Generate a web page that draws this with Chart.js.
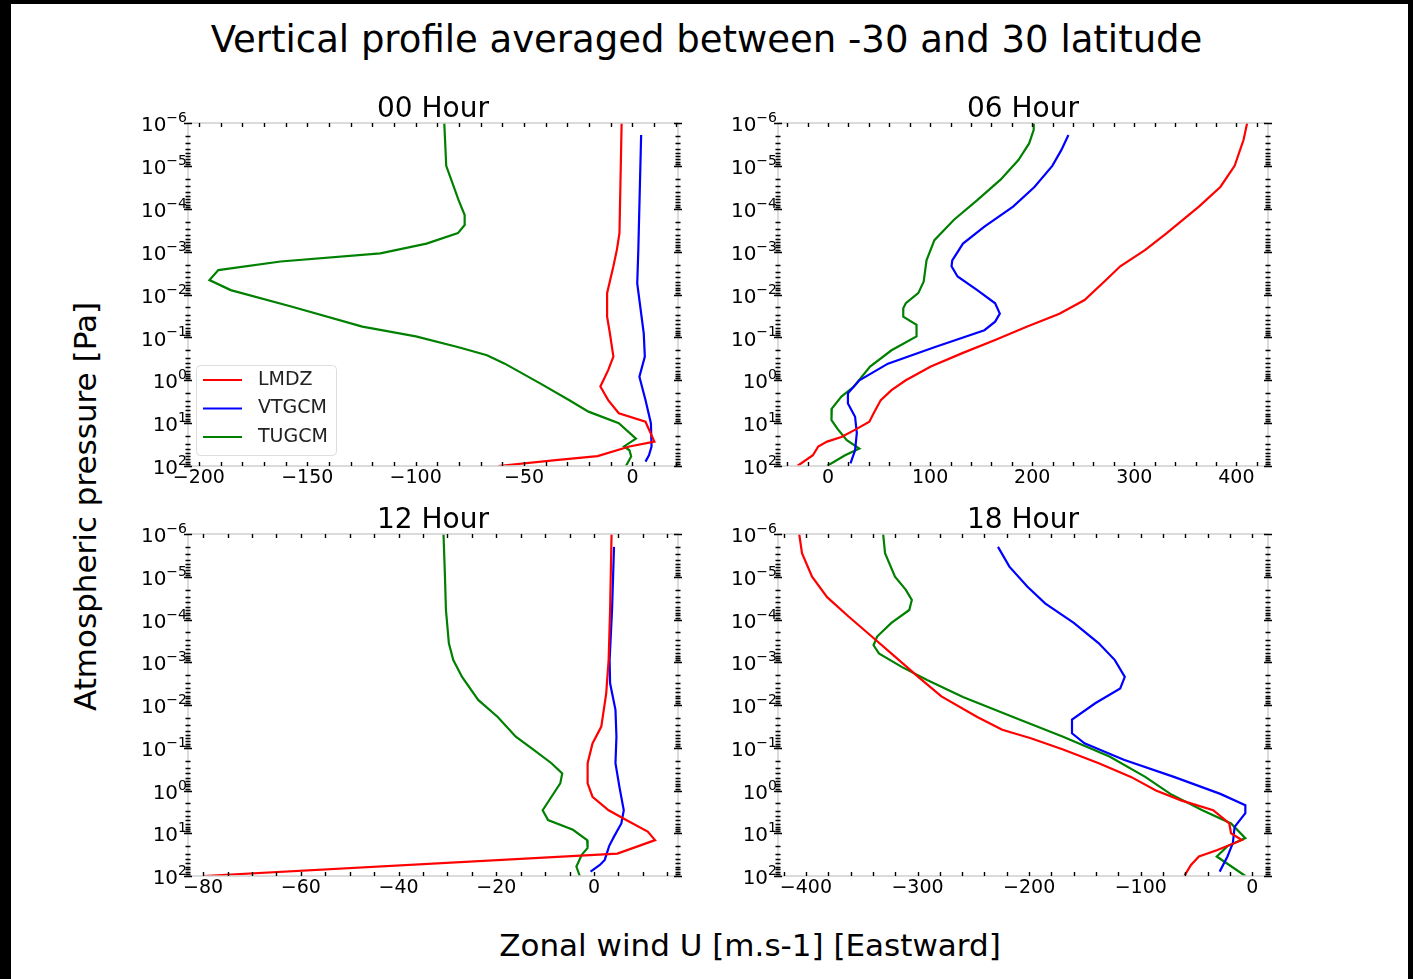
<!DOCTYPE html>
<html>
<head>
<meta charset="utf-8">
<script src="https://cdn.jsdelivr.net/npm/chart.js@4.4.0/dist/chart.umd.min.js"></script>
<style>
  body { margin: 0; background: #000; width: 1413px; height: 979px; overflow: hidden; font-family: 'DejaVu Sans', sans-serif; }
  #sheet { position: absolute; left: 11px; top: 4px; width: 1397px; height: 975px; background: #fff; }
  canvas { position: absolute; }
  .txt { position: absolute; color: #000; white-space: nowrap; text-align: center; }
</style>
</head>
<body>
<div id="sheet"></div>
<div class="txt" style="left:0;width:1413px;top:18px;line-height:44px;font-size:37px;">Vertical profile averaged between -30 and 30 latitude</div>
<div class="txt" style="left:450px;width:600px;top:925px;line-height:40px;font-size:31px;">Zonal wind U [m.s-1] [Eastward]</div>
<div class="txt" style="left:-115px;width:400px;top:491px;line-height:40px;font-size:31px;transform:rotate(-90deg);">Atmospheric pressure [Pa]</div>

<canvas id="h00" width="590" height="410" style="left:110px;top:90px"></canvas>
<canvas id="h06" width="590" height="410" style="left:700px;top:90px"></canvas>
<canvas id="h12" width="590" height="409" style="left:110px;top:501px"></canvas>
<canvas id="h18" width="590" height="409" style="left:700px;top:501px"></canvas>

<script>
// niveaux de pression [Pa] et vent zonal [m/s]
const models = ['LMDZ', 'VTGCM', 'TUGCM'];
const colors = ['#ff0000', '#0000ff', '#008000'];
const decades = [1e-6, 1e-5, 1e-4, 1e-3, 1e-2, 1e-1, 1, 10, 100];

// 00 Hour
const lmdz00P = [1e-6, 3.7e-4, 9.1e-4, 2.2e-3, 9.3e-3, 3.3e-2, 8.1e-2, 0.28, 0.58, 1.4, 2.9, 5.9, 9.3, 27, 35, 59, 72, 100];
const lmdz00U = [-5, -6, -7.2, -8.8, -11.7, -11.7, -10.4, -8.8, -11.2, -14.8, -11.2, -6.3, 6, 10.1, -1.4, -16.1, -34.2, -62];
const vtgcm00P = [1.9e-6, 9.1e-4, 5.5e-3, 8.1e-2, 0.28, 0.83, 2.9, 10, 35, 56, 79];
const vtgcm00U = [4, 2.7, 2.2, 5.2, 5.7, 3.2, 6, 8.5, 8.8, 7.6, 6];
const tugcm00P = [1e-6, 1e-5, 6.3e-5, 1.4e-4, 2.4e-4, 3.7e-4, 6.5e-4, 1.1e-3, 1.7e-3, 2.7e-3, 4.6e-3, 7.9e-3, 1.9e-2, 5.6e-2, 9.5e-2, 0.17, 0.26, 0.41, 1.2, 2.9, 5.4, 10, 23, 35, 43, 60, 100];
const tugcm00U = [-86.8, -85.9, -80.2, -77.4, -77.4, -80.5, -95, -116.3, -162.3, -191, -195.1, -185.3, -157.4, -124.6, -99.9, -80.2, -67.1, -58.9, -42.4, -29.3, -20.3, -6.3, 1.6, -3.9, -1.4, -0.6, -3];

// 06 Hour
const lmdz06P = [1e-6, 2.5e-6, 1e-5, 3.1e-5, 8.9e-5, 3.7e-4, 9.1e-4, 2.2e-3, 4.6e-3, 1.35e-2, 2.8e-2, 5.6e-2, 0.115, 0.23, 0.48, 1.0, 1.7, 2.9, 5.9, 9.3, 14, 21, 27, 35, 56, 100];
const lmdz06U = [410.6, 407, 398.3, 384.3, 363.3, 331.8, 310.8, 286.3, 272.3, 251.3, 226.7, 195.2, 163.7, 132.2, 100.7, 76.2, 62.2, 51.7, 44.7, 40.5, 27.2, 13.1, -0.9, -9.6, -14.8, -30];
const vtgcm06P = [1.9e-6, 4.3e-6, 1e-5, 3.1e-5, 8.9e-5, 2.6e-4, 6.5e-4, 1.6e-3, 2.2e-3, 3.8e-3, 7.9e-3, 1.6e-2, 2.8e-2, 4.3e-2, 6.8e-2, 0.17, 0.41, 1, 2.0, 3.5, 7.1, 17, 43, 87];
const vtgcm06U = [235.5, 228.5, 219.7, 202.2, 181.3, 153.2, 132.2, 121.7, 121, 126.9, 146.2, 163.7, 168.3, 163.7, 153.2, 104.2, 58.7, 30.7, 19.5, 19.5, 26.5, 28.2, 26.5, 22];
const tugcm06P = [1e-6, 1.45e-6, 3e-6, 7.3e-6, 2.1e-5, 6.3e-5, 1.8e-4, 5.4e-4, 1.6e-3, 5e-3, 9.3e-3, 1.6e-2, 2.1e-2, 3.3e-2, 5.1e-2, 9.5e-2, 0.2, 0.48, 1.4, 2.4, 4.6, 8.5, 14, 25, 39, 56, 100];
const tugcm06U = [201.5, 201.5, 197, 186.5, 169, 146.2, 123.4, 104.2, 96.5, 93.7, 88.4, 76.2, 73.7, 73.7, 86.7, 86.7, 62.2, 41.2, 25.4, 13.1, 3.7, 3.4, 9.7, 18.4, 30.7, 16.7, -1];

// 12 Hour
const lmdz12P = [1e-6, 6e-5, 8.9e-4, 5.4e-3, 3.2e-2, 7.9e-2, 0.23, 0.68, 1.4, 2.9, 4.9, 9.1, 14.5, 30, 100];
const lmdz12U = [3.6, 3.3, 3.0, 2.5, 1.5, -0.3, -1.3, -1.3, -0.3, 3.0, 6.6, 11, 12.5, 4.8, -80];
const vtgcm12P = [2e-6, 6e-5, 8.9e-4, 3.1e-3, 1.3e-2, 5.5e-2, 0.23, 0.81, 2.9, 5.9, 12, 20, 42, 55, 79];
const vtgcm12U = [4.1, 3.7, 3.2, 3.3, 4.4, 4.6, 4.4, 5.2, 6.1, 5.6, 4.1, 3.1, 2.2, 1.2, -0.7];
const tugcm12P = [1e-6, 1e-5, 6e-5, 3.6e-4, 8.9e-4, 2.2e-3, 7.6e-3, 1.9e-2, 5.5e-2, 0.11, 0.23, 0.4, 0.68, 1.4, 2.9, 4.9, 8.3, 14.5, 22, 32, 60, 100];
const tugcm12U = [-30.8, -30.5, -30.3, -29.7, -28.8, -27, -23.7, -19.7, -16, -12.4, -8.7, -6.5, -6.9, -8.7, -10.5, -9.4, -4.3, -1.4, -1.3, -2.5, -3.6, -2.9];

// 18 Hour
const lmdz18P = [1e-6, 2.8e-6, 1e-5, 3e-5, 8.5e-5, 2.5e-4, 7.4e-4, 2.2e-3, 6.3e-3, 1.9e-2, 3.8e-2, 6e-2, 0.11, 0.23, 0.48, 1.0, 1.7, 2.9, 5.9, 10, 14.5, 25, 35, 55, 100];
const lmdz18U = [-406, -403.5, -394.5, -381, -361.8, -341, -320.2, -299.4, -278.6, -246.5, -224.1, -198.5, -169.6, -137.6, -108.8, -86.4, -63.9, -35.1, -20.7, -19.1, -9.5, -31.9, -47.9, -55, -61];
const vtgcm18P = [2e-6, 5.8e-6, 1.7e-5, 4.2e-5, 1.2e-4, 3.6e-4, 8.9e-4, 2.2e-3, 4.1e-3, 9.1e-3, 2.2e-2, 4.6e-2, 7.9e-2, 0.19, 0.48, 1.2, 2.2, 3.4, 7.1, 17, 35, 79];
const vtgcm18U = [-227.9, -217.7, -201.7, -185.7, -160, -137.6, -123.2, -114.3, -118.4, -140.8, -161.6, -161.6, -150.4, -115.2, -70.3, -28.7, -6.3, -6.3, -15.9, -17.5, -22.3, -29.3];
const tugcm18P = [1e-6, 2.8e-6, 1e-5, 2e-5, 3.5e-5, 6e-5, 1.2e-4, 2.5e-4, 4e-4, 6.2e-4, 1.3e-3, 2.6e-3, 6.5e-3, 1.9e-2, 5.5e-2, 0.16, 0.48, 1.2, 2.9, 5.9, 13, 20, 35, 100];
const tugcm18U = [-330.8, -329.1, -320.2, -310.6, -305.1, -307.4, -323.4, -336.2, -339.4, -334.6, -313.8, -291.4, -259.3, -214.4, -169.6, -128, -96, -73.5, -44.8, -19.1, -6.3, -22.3, -31.9, -6.3];

// ticks de l'axe x par panneau
const xTicks00 = [-200, -150, -100, -50, 0];
const xTicks06 = [0, 100, 200, 300, 400];
const xTicks12 = [-80, -60, -40, -20, 0];
const xTicks18 = [-400, -300, -200, -100, 0];

const FONT = 'DejaVu Sans';

// cadre gris + petits ticks noirs + étiquettes 10^n (comme matplotlib)
const frameTicks = {
  id: 'frameTicks',
  afterDatasetsDraw(chart, args, opts) {
    const { ctx, chartArea: a, scales: { x, y } } = chart;
    ctx.save();
    ctx.strokeStyle = '#cfcfcf';
    ctx.lineWidth = 1.5;
    ctx.strokeRect(a.left, a.top, a.right - a.left, a.bottom - a.top);
    ctx.strokeStyle = '#000';
    ctx.lineWidth = 1.4;
    ctx.beginPath();
    const start = Math.ceil(x.min / opts.step) * opts.step;
    for (let v = start; v <= x.max; v += opts.step) {
      const px = Math.round(x.getPixelForValue(v)) + 0.5;
      ctx.moveTo(px, a.top); ctx.lineTo(px, a.top + 4);
      ctx.moveTo(px, a.bottom); ctx.lineTo(px, a.bottom - 4);
    }
    decades.forEach(d => {
      for (let k = 1; k < 10; k++) {
        const v = k * d;
        if (v > y.max) break;
        const py = Math.round(y.getPixelForValue(v)) + 0.5;
        const len = k === 1 ? 4 : 2.5;
        ctx.moveTo(a.left - len, py); ctx.lineTo(a.left + len, py);
        ctx.moveTo(a.right - len, py); ctx.lineTo(a.right + len, py);
      }
    });
    ctx.stroke();

    // étiquettes de l'axe y : "10" + exposant
    ctx.fillStyle = '#000';
    ctx.textAlign = 'right';
    decades.forEach(d => {
      const py = y.getPixelForValue(d);
      const ex = String(Math.round(Math.log10(d))).replace('-', '\u2212');
      ctx.font = '14px "' + FONT + '"';
      ctx.textBaseline = 'alphabetic';
      const xr = a.left - 1;
      ctx.fillText(ex, xr, py - 1);
      const w = ctx.measureText(ex).width;
      ctx.font = '20px "' + FONT + '"';
      ctx.textBaseline = 'middle';
      ctx.fillText('10', xr - w, py + 3);
    });
    ctx.restore();
  }
};

// légende encadrée dans le coin bas-gauche
const boxLegend = {
  id: 'boxLegend',
  afterDraw(chart, args, opts) {
    if (!opts.show) return;
    const { ctx, chartArea: a } = chart;
    const x0 = a.left + 8, w = 140, h = 90, y0 = a.bottom - 11 - h;
    ctx.save();
    ctx.fillStyle = 'rgba(255,255,255,0.85)';
    ctx.strokeStyle = '#dddddd';
    ctx.lineWidth = 1;
    ctx.beginPath();
    ctx.roundRect(x0 + 0.5, y0 + 0.5, w, h, 4);
    ctx.fill();
    ctx.stroke();
    ctx.font = '19px "' + FONT + '"';
    ctx.textBaseline = 'middle';
    ctx.textAlign = 'left';
    chart.data.datasets.forEach((ds, i) => {
      const yy = y0 + 15 + i * 28.5;
      ctx.strokeStyle = ds.borderColor;
      ctx.lineWidth = 2;
      ctx.beginPath();
      ctx.moveTo(x0 + 7, yy); ctx.lineTo(x0 + 46, yy);
      ctx.stroke();
      ctx.fillStyle = '#222';
      ctx.fillText(ds.label, x0 + 62, yy);
    });
    ctx.restore();
  }
};

function toPoints(u, p) {
  return u.map((v, i) => ({ x: v, y: p[i] }));
}

function createPanel(id, title, series, xMin, xMax, majors, step, legend) {
  const ctx = document.getElementById(id).getContext('2d');
  return new Chart(ctx, {
    type: 'scatter',
    data: {
      datasets: series.map((s, i) => ({
        label: models[i],
        data: toPoints(s[0], s[1]),
        showLine: true,
        borderColor: colors[i],
        backgroundColor: colors[i],
        borderWidth: 2.2,
        pointRadius: 0,
        tension: 0,
      })),
    },
    options: {
      responsive: false,
      animation: false,
      layout: { padding: { left: 0, right: 22, top: 0, bottom: 0 } },
      plugins: {
        legend: { display: false },
        tooltip: { enabled: false },
        title: {
          display: true,
          fullSize: false,
          text: title,
          color: '#000',
          font: { family: FONT, size: 28, weight: 'normal', lineHeight: 26 / 28 },
          padding: { top: 7, bottom: 0 },
        },
        frameTicks: { step: step },
        boxLegend: { show: legend },
      },
      scales: {
        x: {
          type: 'linear',
          min: xMin,
          max: xMax,
          grid: { display: false, drawTicks: false },
          border: { display: false },
          afterBuildTicks: scale => { scale.ticks = majors.map(v => ({ value: v })); },
          afterFit: scale => { scale.height = 34; },
          ticks: {
            autoSkip: false,
            maxRotation: 0,
            padding: 1,
            color: '#000',
            font: { family: FONT, size: 19 },
            callback: v => String(v).replace('-', '\u2212'),
          },
        },
        y: {
          type: 'logarithmic',
          reverse: true,
          min: 1e-6,
          max: 100,
          grid: { display: false, drawTicks: false },
          border: { display: false },
          afterBuildTicks: scale => { scale.ticks = decades.map(v => ({ value: v })); },
          afterFit: scale => { scale.width = 78; },
          ticks: { display: false },
        },
      },
    },
    plugins: [frameTicks, boxLegend],
  });
}

createPanel('h00', '00 Hour', [[lmdz00U, lmdz00P], [vtgcm00U, vtgcm00P], [tugcm00U, tugcm00P]], -205, 21, xTicks00, 10, true);
createPanel('h06', '06 Hour', [[lmdz06U, lmdz06P], [vtgcm06U, vtgcm06P], [tugcm06U, tugcm06P]], -49, 431, xTicks06, 20, false);
createPanel('h12', '12 Hour', [[lmdz12U, lmdz12P], [vtgcm12U, vtgcm12P], [tugcm12U, tugcm12P]], -83.1, 17.2, xTicks12, 5, false);
createPanel('h18', '18 Hour', [[lmdz18U, lmdz18P], [vtgcm18U, vtgcm18P], [tugcm18U, tugcm18P]], -425, 14, xTicks18, 20, false);
</script>
</body>
</html>
